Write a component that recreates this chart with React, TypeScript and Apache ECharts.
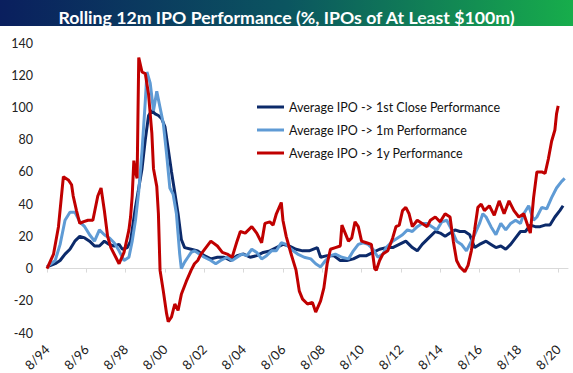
import React, { useEffect, useRef } from "react";
import * as echarts from "echarts";

// x values are months since Aug 1994
const tickLabels = ["8/94","8/96","8/98","8/00","8/02","8/04","8/06","8/08","8/10","8/12","8/14","8/16","8/18","8/20"];
const tickMonths = tickLabels.map((_, i) => i * 24);

const seriesNames = [
  "Average IPO -> 1st Close Performance",
  "Average IPO -> 1m Performance",
  "Average IPO -> 1y Performance",
];

const closeMonths = [0,5,8,11,14,17,20,23,26,29,32,35,38,41,44,46,49,51,54,56,58,60,62,64,66,68,70,72,74,76,78,80,82,84,88,92,96,100,104,108,112,116,120,124,128,132,136,140,144,148,152,156,160,165,167,171,175,179,183,187,191,195,199,203,207,211,215,219,223,226,229,233,237,240,243,246,249,252,255,258,261,264,268,271,274,277,280,283,286,289,292,295,298,301,304,307,310,313,315];
const closeValues = [1,3,5,9,12,17,20,19,17,14,14,17,15,14,15,12,13,17,38,50,62,80,95,98,96,95,93,88,74,60,47,34,18,13,12,11,8,6,7,7,5,8,9,7,8,10,11,13,15,14,12,11,11,13,7,8,8,5,5,6,8,8,10,12,13,13,15,17,13,11,15,19,23,22,20,22,24,23,23,21,13,15,17,15,13,14,12,15,19,23,23,27,26,26,27,27,32,36,39];

const monthMonths = [0,5,8,11,14,17,20,23,26,29,32,35,38,41,44,47,50,52,54,56,58,60,61,63,65,67,69,71,73,75,77,79,81,82,84,86,88,90,93,96,100,103,106,110,113,116,119,122,125,128,131,134,137,140,143,146,149,153,157,161,164,167,170,173,176,180,184,187,190,193,196,199,202,205,207,211,214,217,220,223,226,229,232,235,238,241,244,247,250,253,256,258,261,264,266,268,271,274,277,280,283,286,289,291,294,297,299,302,305,308,311,314,316];
const monthValues = [1,5,15,30,35,35,29,26,21,17,24,21,19,16,11,5,7,17,30,48,73,104,122,115,98,110,100,90,71,50,46,34,9,0,4,7,10,11,9,7,5,3,5,7,5,7,9,8,12,10,6,8,11,11,16,15,12,9,7,6,3,1,5,8,9,7,6,11,15,16,15,12,7,9,13,17,19,21,24,23,26,28,28,26,24,29,30,24,17,15,11,15,21,28,34,32,26,21,28,24,28,30,28,34,39,30,32,38,37,44,50,54,56];

const yearMonths = [0,4,7,10,13,15,16,18,20,22,25,28,31,33,35,37,39,42,44,47,50,51,52,53,54,55,56,58,60,62,64,65,67,68,69,71,73,74,76,78,80,82,85,88,90,92,94,97,100,104,107,110,113,116,118,121,125,128,131,133,136,138,140,143,144,146,149,152,154,156,159,162,164,167,169,171,173,176,179,180,182,184,186,188,190,192,195,198,200,201,203,205,208,211,213,215,217,219,221,223,226,229,232,234,237,240,243,246,248,250,252,255,257,259,261,263,265,267,270,273,276,279,282,285,288,291,293,295,297,299,302,304,306,308,310,311,312];
const yearValues = [0,9,26,57,55,52,45,36,28,29,30,30,45,50,36,20,13,7,3,10,24,32,45,67,60,56,131,122,121,108,84,62,51,34,-1,-14,-28,-33,-30,-22,-26,-16,-8,-1,3,5,9,13,17,14,10,9,7,17,23,22,26,22,16,28,29,27,34,41,30,20,9,-1,-14,-19,-22,-21,-27,-20,-12,3,12,13,14,27,22,17,19,29,26,17,16,15,0,-1,5,9,11,19,26,27,36,38,34,26,30,28,26,30,32,29,34,32,17,5,1,-2,2,11,24,38,40,36,39,33,42,34,42,36,32,34,28,22,44,60,60,59,68,79,86,96,101];

const colors = ["#0c2a6a", "#5f9bd5", "#c00000"];

const zip = (xs: number[], ys: number[]) => xs.map((x, i) => [x, ys[i]]);

export default function App() {
  const ref = useRef<HTMLDivElement>(null);
  useEffect(() => {
    if (!ref.current) return;
    const chart = echarts.init(ref.current, undefined, { renderer: "svg" });
    const font = "Lato";
    chart.setOption({
      animation: false,
      backgroundColor: "#ffffff",
      title: {
        text: "Rolling 12m IPO Performance (%, IPOs of At Least $100m)",
        left: "center",
        top: 3,
        z: 10,
        textStyle: { color: "#ffffff", fontFamily: font, fontWeight: "bold", fontSize: 17.7 },
      },
      graphic: [
        {
          type: "rect",
          left: 0,
          top: 0,
          z: 0,
          shape: { width: 573, height: 26 },
          style: {
            fill: new echarts.graphic.LinearGradient(0, 0, 1, 0, [
              { offset: 0, color: "#0a1f5e" },
              { offset: 0.5, color: "#0b5560" },
              { offset: 1, color: "#17ad4b" },
            ]),
          },
        },
      ],
      legend: {
        orient: "vertical",
        left: 252,
        top: 95,
        itemWidth: 27,
        itemHeight: 3,
        itemGap: 9,
        icon: "rect",
        data: seriesNames,
        textStyle: { fontFamily: font, fontSize: 12.5, color: "#111", lineHeight: 14 },
      },
      grid: { left: 47, top: 43, width: 521, height: 290, outerBoundsMode: "none", containLabel: false },
      xAxis: {
        type: "value",
        min: 0,
        max: 318,
        axisLine: { show: true, onZero: true, lineStyle: { color: "#d9d9d9", width: 1 } },
        axisTick: { show: true, customValues: tickMonths, length: 4, lineStyle: { color: "#d9d9d9" } },
        splitLine: { show: false },
        axisLabel: {
          customValues: tickMonths,
          rotate: 45,
          margin: 14,
          fontFamily: font,
          fontSize: 13,
          color: "#222",
          formatter: (v: number) => tickLabels[Math.round(v / 24)] ?? "",
        },
      },
      yAxis: {
        type: "value",
        min: -40,
        max: 140,
        interval: 20,
        axisLine: { show: false },
        axisTick: { show: false },
        splitLine: { show: false },
        axisLabel: { margin: 14, fontFamily: font, fontSize: 12.5, color: "#222" },
      },
      series: [
        { name: seriesNames[0], data: zip(closeMonths, closeValues) },
        { name: seriesNames[1], data: zip(monthMonths, monthValues) },
        { name: seriesNames[2], data: zip(yearMonths, yearValues) },
      ].map((s, i) => ({
        ...s,
        type: "line",
        showSymbol: false,
        symbol: "none",
        color: colors[i],
        lineStyle: { width: 3, color: colors[i] },
      })),
    });
    return () => chart.dispose();
  }, []);
  return (
    <div
      ref={ref}
      style={{ position: "absolute", left: 0, top: 0, width: 573, height: 373, background: "#fff" }}
    />
  );
}
